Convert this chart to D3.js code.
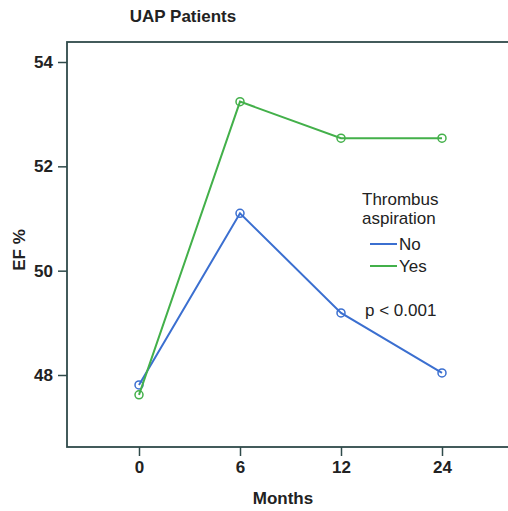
<!DOCTYPE html>
<html>
<head>
<meta charset="utf-8">
<script src="https://cdn.jsdelivr.net/npm/d3@7/dist/d3.min.js"></script>
<style>
  body { margin: 0; background: #fff; }
  text { font-family: "Liberation Sans", Arial, sans-serif; fill: #222; }
</style>
</head>
<body>
<svg id="chart" width="508" height="511"></svg>
<script>
var months = ["0", "6", "12", "24"];
var noValues = [47.81, 51.10, 49.19, 48.04];
var yesValues = [47.62, 53.24, 52.54, 52.54];
var yTicks = [48, 50, 52, 54];
var seriesNames = ["No", "Yes"];
var seriesColors = ["#3b6fd0", "#43b04a"];

var svg = d3.select("#chart");

var frame = { left: 67, top: 42, right: 512, bottom: 447 };

var x = d3.scalePoint().domain(months).range([139, 442]);
var y = d3.scaleLinear().domain([48, 54]).range([375, 62]);

// title
svg.append("text")
  .attr("x", 183).attr("y", 22)
  .attr("text-anchor", "middle")
  .style("font-weight", "bold").style("font-size", "17px")
  .text("UAP Patients");

// frame
svg.append("rect")
  .attr("x", frame.left).attr("y", frame.top)
  .attr("width", frame.right - frame.left).attr("height", frame.bottom - frame.top)
  .attr("fill", "none").attr("stroke", "#2f4a4a").attr("stroke-width", 1.8);

// y axis
var yAxis = svg.append("g")
  .attr("transform", "translate(" + frame.left + ",0)")
  .call(d3.axisLeft(y).tickValues(yTicks).tickSize(9).tickPadding(5).tickFormat(d3.format("d")));
yAxis.select(".domain").remove();
yAxis.selectAll(".tick line").attr("stroke", "#2f4a4a").attr("stroke-width", 1.5);
yAxis.selectAll(".tick text")
  .style("font-family", "'Liberation Sans', Arial, sans-serif")
  .style("font-size", "17px").style("font-weight", "bold").attr("fill", "#222");

// x axis
var xAxis = svg.append("g")
  .attr("transform", "translate(0," + frame.bottom + ")")
  .call(d3.axisBottom(x).tickSize(9).tickPadding(5));
xAxis.select(".domain").remove();
xAxis.selectAll(".tick line").attr("stroke", "#2f4a4a").attr("stroke-width", 1.5);
xAxis.selectAll(".tick text")
  .style("font-family", "'Liberation Sans', Arial, sans-serif")
  .style("font-size", "17px").style("font-weight", "bold").attr("fill", "#222");

// axis titles
svg.append("text")
  .attr("x", 283).attr("y", 504)
  .attr("text-anchor", "middle")
  .style("font-weight", "bold").style("font-size", "17px")
  .text("Months");

svg.append("text")
  .attr("transform", "translate(25,250) rotate(-90)")
  .attr("text-anchor", "middle")
  .style("font-weight", "bold").style("font-size", "17px")
  .text("EF %");

// lines
var line = d3.line()
  .x(function(d, i) { return x(months[i]); })
  .y(function(d) { return y(d); });

[noValues, yesValues].forEach(function(vals, s) {
  svg.append("path")
    .datum(vals)
    .attr("d", line)
    .attr("fill", "none")
    .attr("stroke", seriesColors[s])
    .attr("stroke-width", 2);
  svg.selectAll(".pt" + s)
    .data(vals)
    .enter().append("circle")
    .attr("class", "pt" + s)
    .attr("cx", function(d, i) { return x(months[i]); })
    .attr("cy", function(d) { return y(d); })
    .attr("r", 4)
    .attr("fill", "none")
    .attr("stroke", seriesColors[s])
    .attr("stroke-width", 1.5);
});

// legend
var legend = svg.append("g");
legend.append("text").attr("x", 362).attr("y", 205).style("font-size", "17px").text("Thrombus");
legend.append("text").attr("x", 362).attr("y", 224).style("font-size", "17px").text("aspiration");
seriesNames.forEach(function(name, i) {
  var ly = 244 + i * 22;
  legend.append("line")
    .attr("x1", 370).attr("x2", 397).attr("y1", ly).attr("y2", ly)
    .attr("stroke", seriesColors[i]).attr("stroke-width", 2);
  legend.append("text")
    .attr("x", 399).attr("y", ly + 6)
    .style("font-size", "17px").text(name);
});

svg.append("text")
  .attr("x", 365).attr("y", 316)
  .style("font-size", "17px")
  .text("p < 0.001");
</script>
</body>
</html>
